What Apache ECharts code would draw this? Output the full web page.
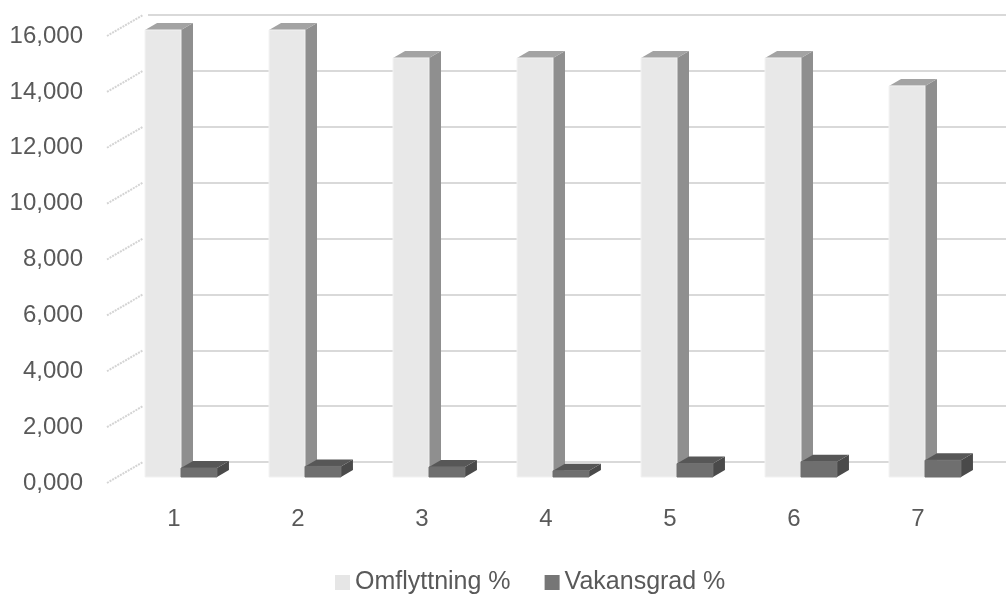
<!DOCTYPE html>
<html>
<head>
<meta charset="utf-8">
<script src="https://cdn.jsdelivr.net/npm/echarts@6/dist/echarts.min.js"></script>
<style>
  html, body { margin: 0; padding: 0; background: #fff; }
  #chart { width: 1006px; height: 599px; }
</style>
</head>
<body>
<div id="chart"></div>
<script>
// data
const categories = ['1', '2', '3', '4', '5', '6', '7']
const omflyttning = [16, 16, 15, 15, 15, 15, 14]
const vakansgrad = [0.32, 0.38, 0.36, 0.22, 0.48, 0.55, 0.6]
const yTicks = [0, 2, 4, 6, 8, 10, 12, 14, 16]

// 3D look
const WALL_DX = 36, WALL_DY = -21   // front plane -> back wall
const BAR_DX = 7, BAR_DY = -6       // bars sit a bit behind the front plane
const DEP_DX = 12, DEP_DY = -7      // bar depth

const chart = echarts.init(document.getElementById('chart'))

// draws one box; side: 0 = left bar of the pair, 1 = right bar
function box(side, faces) {
  return function (params, api) {
    const top = api.coord([api.value(0), api.value(1)])
    const base = api.coord([api.value(0), 0])
    const bw = api.size([1, 0])[0] * 0.29
    const x0 = top[0] + BAR_DX - bw + side * bw
    const x1 = x0 + bw
    const yT = top[1] + BAR_DY
    const yB = base[1] + BAR_DY
    return {
      type: 'group',
      children: [
        { type: 'polygon', shape: { points: [[x1, yT], [x1 + DEP_DX, yT + DEP_DY], [x1 + DEP_DX, yB + DEP_DY], [x1, yB]] },
          style: { fill: faces.side } },
        { type: 'polygon', shape: { points: [[x0, yT], [x0 + DEP_DX, yT + DEP_DY], [x1 + DEP_DX, yT + DEP_DY], [x1, yT]] },
          style: { fill: faces.top } },
        { type: 'rect', shape: { x: x0, y: yT, width: bw, height: yB - yT },
          style: { fill: faces.front, stroke: faces.edge, lineWidth: 1 } }
      ]
    }
  }
}

// slanted lines on the left side wall
function sideWall(params, api) {
  const p = api.coord([0, api.value(0)])
  const x = params.coordSys.x - 5
  return {
    type: 'line',
    shape: { x1: x, y1: p[1], x2: x + WALL_DX, y2: p[1] + WALL_DY },
    style: { stroke: '#d4d4d4', lineWidth: 2, lineDash: [2, 1] }
  }
}

const labelFont = { color: '#595959', fontSize: 24, fontFamily: 'Liberation Sans, Arial, sans-serif' }

const options = {
  animation: false,
  legend: {
    data: ['Omflyttning %', 'Vakansgrad %'],
    top: 565,
    left: 330,
    icon: 'rect',
    itemWidth: 15,
    itemHeight: 15,
    itemGap: 34,
    textStyle: { ...labelFont, fontSize: 25 }
  },
  grid: [
    // front plane
    { left: 112, top: 36, width: 868, height: 447 },
    // back wall
    { left: 112 + WALL_DX, top: 36 + WALL_DY, width: 870, height: 447 }
  ],
  xAxis: [
    {
      gridIndex: 0, type: 'category', data: categories,
      axisLine: { show: false }, axisTick: { show: false },
      axisLabel: { ...labelFont, margin: 24 }
    },
    {
      gridIndex: 1, type: 'category', data: categories,
      axisLine: { show: false }, axisTick: { show: false }, axisLabel: { show: false }
    }
  ],
  yAxis: [
    {
      gridIndex: 0, min: 0, max: 16, interval: 2,
      axisLine: { show: false }, axisTick: { show: false }, splitLine: { show: false },
      axisLabel: { ...labelFont, margin: 29, formatter: v => v.toFixed(3).replace('.', ',') }
    },
    {
      gridIndex: 1, min: 0, max: 16, interval: 2,
      axisLine: { show: false }, axisTick: { show: false }, axisLabel: { show: false },
      splitLine: { lineStyle: { color: '#d9d9d9', width: 2 } }
    }
  ],
  series: [
    {
      type: 'custom', name: 'side wall', xAxisIndex: 0, yAxisIndex: 0,
      data: yTicks.map(v => [v]), renderItem: sideWall, silent: true, clip: false
    },
    {
      type: 'custom', name: 'Omflyttning %', xAxisIndex: 0, yAxisIndex: 0,
      itemStyle: { color: '#e6e6e6' },
      data: omflyttning.map((v, i) => [i, v]),
      renderItem: box(0, { front: '#e8e8e8', side: '#8f8f8f', top: '#a3a3a3', edge: '#f2f2f2' }),
      clip: false
    },
    {
      type: 'custom', name: 'Vakansgrad %', xAxisIndex: 0, yAxisIndex: 0,
      itemStyle: { color: '#767676' },
      data: vakansgrad.map((v, i) => [i, v]),
      renderItem: box(1, { front: '#6f6f6f', side: '#4a4a4a', top: '#575757', edge: '#6f6f6f' }),
      clip: false
    }
  ]
}

chart.setOption(options)
</script>
</body>
</html>
